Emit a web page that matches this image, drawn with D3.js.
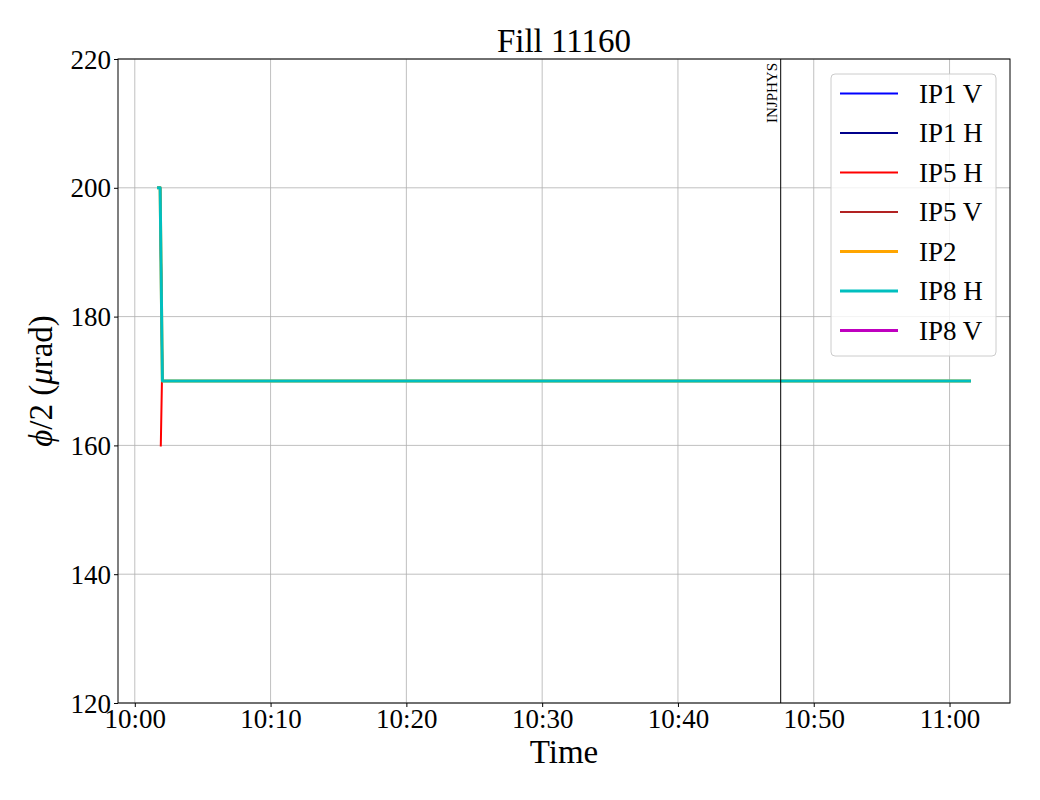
<!DOCTYPE html>
<html>
<head>
<meta charset="utf-8">
<script src="https://cdn.jsdelivr.net/npm/d3@7"></script>
<style>
  body { margin: 0; background: #fff; }
  text { font-family: "Liberation Serif", "DejaVu Serif", serif; }
</style>
</head>
<body>
<svg id="chart" width="1040" height="800"></svg>
<script>
// series data: time strings and phi/2 values (urad)
const seriesNames = ["IP1 V", "IP1 H", "IP5 H", "IP5 V", "IP2", "IP8 H", "IP8 V"];
const seriesColors = ["#0000ff", "#00008b", "#ff0000", "#b22222", "#ffa500", "#00bfbf", "#bf00bf"];
const seriesWidths = [2, 2, 2, 2, 3, 3, 3];

const ip1vTimes = ["10:01:45", "10:01:52", "10:02:02", "11:01:28"];
const ip1vVals = [200, 200, 170, 170];
const ip1hTimes = ["10:01:45", "10:01:52", "10:02:02", "11:01:28"];
const ip1hVals = [200, 200, 170, 170];
const ip5hTimes = ["10:01:55", "10:02:00", "11:01:28"];
const ip5hVals = [160, 170, 170];
const ip5vTimes = ["10:01:45", "10:01:52", "10:02:02", "11:01:28"];
const ip5vVals = [200, 200, 170, 170];
const ip2Times = ["10:01:45", "10:01:52", "10:02:02", "11:01:28"];
const ip2Vals = [200, 200, 170, 170];
const ip8hTimes = ["10:01:45", "10:01:52", "10:02:02", "11:01:28"];
const ip8hVals = [200, 200, 170, 170];
const ip8vTimes = [];
const ip8vVals = [];

const markerName = "INJPHYS";
const markerTime = "10:47:34";

const yTicks = [120, 140, 160, 180, 200, 220];

const parse = d3.timeParse("%H:%M:%S");
const allTimes = [ip1vTimes, ip1hTimes, ip5hTimes, ip5vTimes, ip2Times, ip8hTimes, ip8vTimes];
const allVals = [ip1vVals, ip1hVals, ip5hVals, ip5vVals, ip2Vals, ip8hVals, ip8vVals];

let series = seriesNames.map((n, i) => ({
    name: n,
    color: seriesColors[i],
    width: seriesWidths[i],
    pts: allTimes[i].map((t, j) => ({ t: parse(t), v: allVals[i][j] }))
}));

let pLeft = 118, pRight = 1010, pTop = 59, pBottom = 703;

let svg = d3.select("#chart");

let ext = d3.extent(series.flatMap(s => s.pts), d => d.t);
let pad = (ext[1] - ext[0]) * 0.05;
let x = d3.scaleTime()
    .domain([new Date(+ext[0] - pad), new Date(+ext[1] + pad)])
    .range([pLeft, pRight]);
let y = d3.scaleLinear().domain([120, 220]).range([pBottom, pTop]);

let xTicks = x.ticks(d3.timeMinute.every(10));

// grid
svg.append("g").selectAll("line")
    .data(xTicks).enter().append("line")
    .attr("x1", d => x(d)).attr("x2", d => x(d))
    .attr("y1", pTop).attr("y2", pBottom)
    .attr("stroke", "#b0b0b0").attr("stroke-width", 0.8);
svg.append("g").selectAll("line")
    .data(yTicks).enter().append("line")
    .attr("x1", pLeft).attr("x2", pRight)
    .attr("y1", d => y(d)).attr("y2", d => y(d))
    .attr("stroke", "#b0b0b0").attr("stroke-width", 0.8);

// lines
let line = d3.line().x(d => x(d.t)).y(d => y(d.v));
series.forEach(s => {
    if (s.pts.length == 0) return;
    svg.append("path")
        .attr("d", line(s.pts))
        .attr("fill", "none")
        .attr("stroke", s.color)
        .attr("stroke-width", s.width)
        .attr("stroke-linejoin", "round")
        .attr("stroke-linecap", "square");
});

// marker line
let mx = x(parse(markerTime));
svg.append("line")
    .attr("x1", mx).attr("x2", mx)
    .attr("y1", pTop).attr("y2", pBottom)
    .attr("stroke", "black").attr("stroke-width", 1);
svg.append("text")
    .attr("transform", "translate(" + (mx - 4) + "," + (pTop + 4) + ") rotate(-90)")
    .attr("text-anchor", "end")
    .attr("font-size", 15)
    .text(markerName);

// axes
let xAxis = d3.axisBottom(x).tickValues(xTicks).tickFormat(d3.timeFormat("%H:%M")).tickSize(4).tickPadding(2);
let yAxis = d3.axisLeft(y).tickValues(yTicks).tickSize(4).tickPadding(3);

let gx = svg.append("g").attr("transform", "translate(0," + pBottom + ")").call(xAxis);
gx.select(".domain").remove();
gx.selectAll("text").attr("font-size", 27).attr("font-family", "Liberation Serif").attr("fill", "black");

let gy = svg.append("g").attr("transform", "translate(" + pLeft + ",0)").call(yAxis);
gy.select(".domain").remove();
gy.selectAll("text").attr("font-size", 27).attr("font-family", "Liberation Serif").attr("fill", "black").attr("dy", "0.34em");

svg.append("rect")
    .attr("x", pLeft).attr("y", pTop)
    .attr("width", pRight - pLeft).attr("height", pBottom - pTop)
    .attr("fill", "none").attr("stroke", "black").attr("stroke-width", 1);

// labels
svg.append("text")
    .attr("x", (pLeft + pRight) / 2).attr("y", 52)
    .attr("text-anchor", "middle").attr("font-size", 33)
    .text("Fill 11160");
svg.append("text")
    .attr("x", (pLeft + pRight) / 2).attr("y", 763)
    .attr("text-anchor", "middle").attr("font-size", 33)
    .text("Time");

let yl = svg.append("text")
    .attr("transform", "translate(52," + ((pTop + pBottom) / 2) + ") rotate(-90)")
    .attr("text-anchor", "middle").attr("font-size", 33);
yl.append("tspan").attr("font-style", "italic").text("ϕ");
yl.append("tspan").text("/2 (");
yl.append("tspan").attr("font-style", "italic").text("μ");
yl.append("tspan").text("rad)");

// legend
let lg = svg.append("g").attr("transform", "translate(831,74)");
lg.append("rect")
    .attr("width", 165).attr("height", 282)
    .attr("rx", 4)
    .attr("fill", "white").attr("fill-opacity", 0.8)
    .attr("stroke", "#cccccc").attr("stroke-width", 1);
series.forEach((s, i) => {
    let yy = 19.5 + i * 39.5;
    lg.append("line")
        .attr("x1", 9).attr("x2", 67)
        .attr("y1", yy).attr("y2", yy)
        .attr("stroke", s.color).attr("stroke-width", s.width);
    lg.append("text")
        .attr("x", 88).attr("y", yy)
        .attr("dy", "0.35em")
        .attr("font-size", 27)
        .text(s.name);
});
</script>
</body>
</html>
